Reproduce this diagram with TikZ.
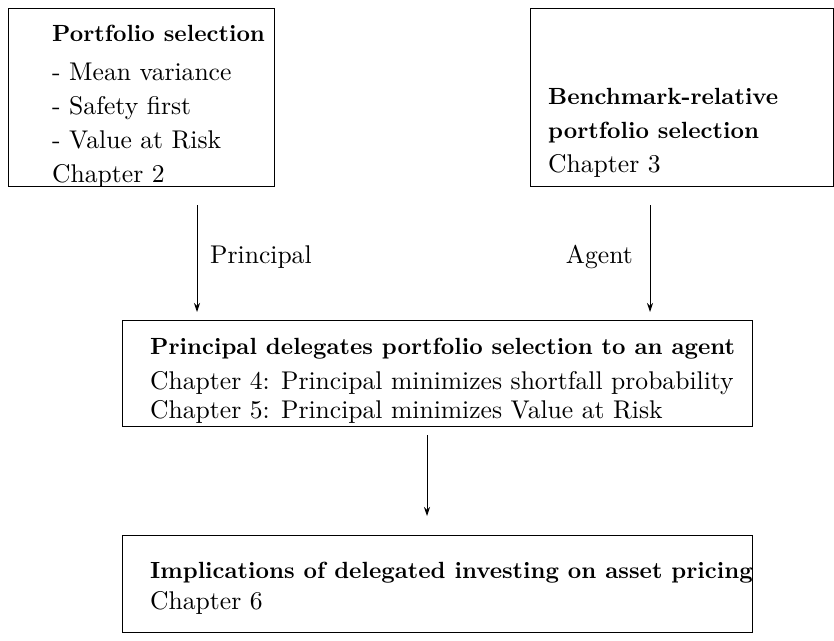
\documentclass[tikz,border=0pt]{standalone}
\usepackage{fontspec}
\setmainfont{lmroman10-regular}[Extension=.otf,BoldFont=lmroman10-bold]
\usetikzlibrary{arrows.meta}
\newcommand\bt[1]{{\fontsize{23.4}{30}\selectfont\bfseries #1}}
\begin{document}
\begin{tikzpicture}[x=1pt,y=-1pt,
  boxstyle/.style={draw=black,line width=1pt,inner sep=0pt,outer sep=0pt,anchor=north west},
  ln/.style={anchor=base west,inner sep=0pt,font=\fontsize{25.6}{30}\selectfont},
  lnr/.style={anchor=base east,inner sep=0pt,font=\fontsize{25.6}{30}\selectfont},
  arr/.style={line width=0.9pt,-{Stealth[length=9pt,width=6pt]}}]
\useasboundingbox (0,0) rectangle (834,640);
\clip (0,0) rectangle (834,640);
% boxes
\node[boxstyle,minimum width=266pt,minimum height=178pt] (b1) at (8,8) {};
\node[boxstyle,minimum width=303pt,minimum height=178pt] (b2) at (530,8) {};
\node[boxstyle,minimum width=630pt,minimum height=106pt] (b3) at (122,320) {};
\node[boxstyle,minimum width=630pt,minimum height=97pt] (b4) at (122,535) {};
% box 1 text
\node[ln] (t11) at (52,41) {\bt{Portfolio selection}};
\node[ln] (t12) at (52,80) {- Mean variance};
\node[ln] (t13) at (52,114) {- Safety first};
\node[ln] (t14) at (52,148) {- Value at Risk};
\node[ln] (t15) at (52,182) {Chapter 2};
% box 2 text
\node[ln] (t21) at (548,104) {\bt{Benchmark-relative}};
\node[ln] (t22) at (548,138) {\bt{portfolio selection}};
\node[ln] (t23) at (548,172) {Chapter 3};
% box 3 text
\node[ln] (t31) at (150,354) {\bt{Principal delegates portfolio selection to an agent}};
\node[ln] (t32) at (150,389) {Chapter 4: Principal minimizes shortfall probability};
\node[ln] (t33) at (150,418) {Chapter 5: Principal minimizes Value at Risk};
% box 4 text
\node[ln] (t41) at (150,578) {\bt{Implications of delegated investing on asset pricing}};
\node[ln] (t42) at (150,609) {Chapter 6};
% connectors
\coordinate (xl) at (197,0);
\coordinate (xr) at (650,0);
\coordinate (xm) at (427,0);
\draw[arr,shorten <=19pt,shorten >=8pt] (b1.south -| xl) -- (b3.north -| xl);
\draw[arr,shorten <=19pt,shorten >=8pt] (b2.south -| xr) -- (b3.north -| xr);
\draw[arr,shorten <=9pt,shorten >=19pt] (b3.south -| xm) -- (b4.north -| xm);
% labels
\node[ln] (lp) at (210,263) {Principal};
\node[lnr] (la) at (633,263) {Agent};
\end{tikzpicture}
\end{document}
